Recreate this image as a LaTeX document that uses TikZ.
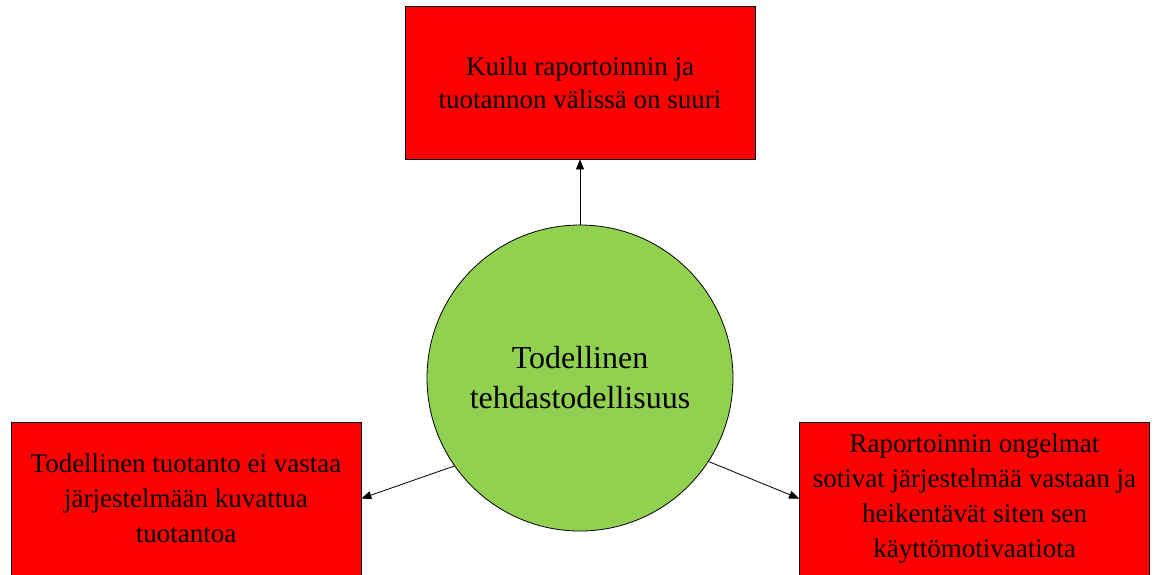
\documentclass[tikz,border=0pt]{standalone}
\usepackage{fontspec}
\setmainfont{Liberation Serif}
\usetikzlibrary{arrows.meta}
\definecolor{boxred}{HTML}{FF0000}
\definecolor{circgreen}{HTML}{92D050}
\begin{document}
\begin{tikzpicture}[x=1pt,y=-1pt,
  effect/.style={draw=black,line width=0.8pt,fill=boxred,rectangle,
    minimum width=350pt,minimum height=153pt,inner sep=0pt,align=center,
    font=\fontsize{27}{35}\selectfont},
  core/.style={draw=black,line width=0.8pt,fill=circgreen,circle,
    minimum size=306pt,inner sep=0pt,align=center,
    font=\fontsize{32}{40}\selectfont},
  link/.style={-{Triangle[length=10pt,width=8pt]},line width=0.8pt}]
\useasboundingbox (0,0) rectangle (1157,574);
\node[core] (c) at (580,378) {Todellinen\\tehdastodellisuus};
\node[effect,font=\fontsize{27}{33}\selectfont] (top) at (580,82.5) {Kuilu raportoinnin ja\\tuotannon välissä on suuri};
\node[effect] (left) at (186,498.5) {Todellinen tuotanto ei vastaa\\järjestelmään kuvattua\\tuotantoa};
\node[effect] (right) at (974.5,498.5) {Raportoinnin ongelmat\\sotivat järjestelmää vastaan ja\\heikentävät siten sen\\käyttömotivaatiota};
\draw[link] (c.north) -- (top.south);
\draw[link] (c.215) -- (left.east);
\draw[link] (c.327) -- (right.west);
\end{tikzpicture}
\end{document}
